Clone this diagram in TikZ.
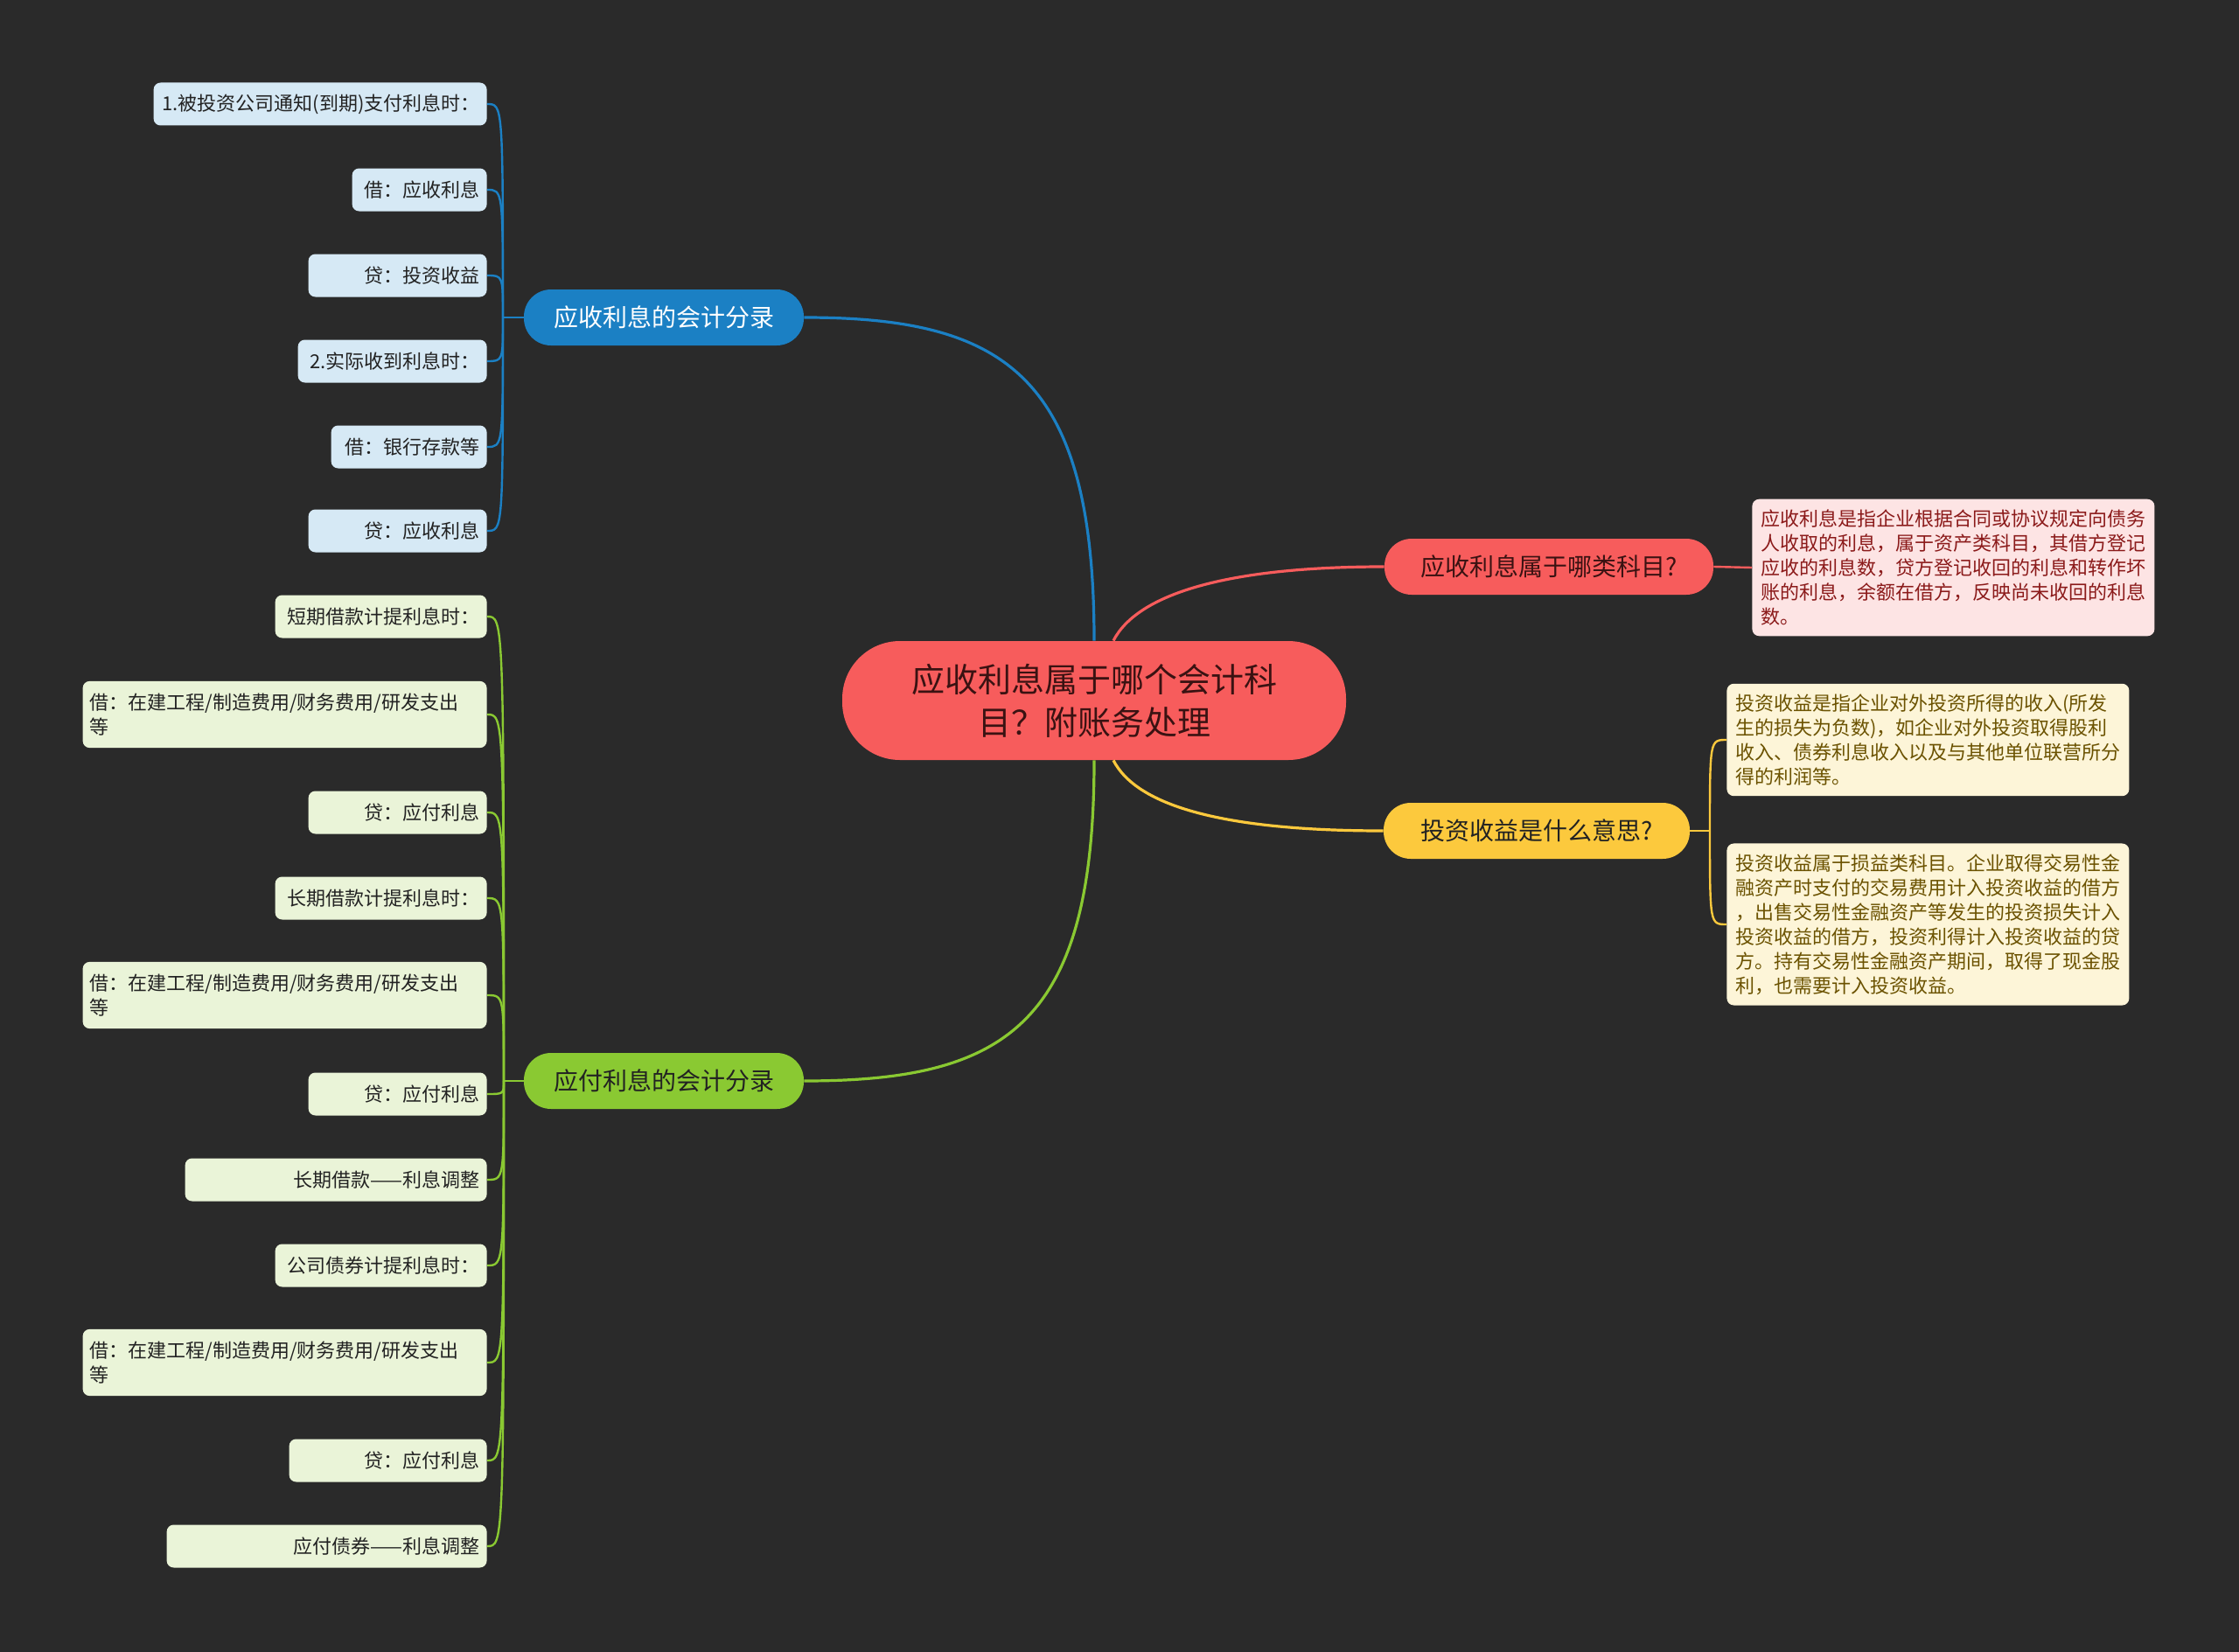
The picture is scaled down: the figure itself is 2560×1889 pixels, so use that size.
\documentclass[tikz,border=0pt]{standalone}
\usepackage{fontspec}
\setmainfont{Noto Sans CJK SC}
\usetikzlibrary{positioning}
\definecolor{bgdark}{RGB}{42,42,42}
\definecolor{rootred}{RGB}{247,92,92}
\definecolor{roottext}{RGB}{58,18,18}
\definecolor{mapblue}{RGB}{27,128,196}
\definecolor{bluefill}{RGB}{214,233,245}
\definecolor{mapgreen}{RGB}{138,201,50}
\definecolor{greenfill}{RGB}{234,244,216}
\definecolor{mapyellow}{RGB}{252,201,61}
\definecolor{yellowfill}{RGB}{253,245,216}
\definecolor{redfill}{RGB}{253,228,228}
\definecolor{redtext}{RGB}{139,26,26}
\definecolor{yellowtext}{RGB}{107,82,0}
\definecolor{leaftext}{RGB}{34,34,34}

\begin{document}
\begin{tikzpicture}[
                x=0.5pt, y=-0.5pt,
                every node/.append style={font=\fontsize{11}{14}\selectfont, inner xsep=4pt, inner ysep=5pt, rounded corners=4pt},
                rootnode/.style={fill=rootred, text=roottext, font=\fontsize{19}{24.5}\selectfont, align=center,
                    minimum width=288pt, minimum height=68pt, rounded corners=33pt},
                branch/.style={font=\fontsize{14}{17}\selectfont, minimum height=32pt, rounded corners=15.5pt},
                bluebranch/.style={branch, fill=mapblue, text=white, minimum width=160pt},
                greenbranch/.style={branch, fill=mapgreen, text=leaftext, minimum width=160pt},
                redbranch/.style={branch, fill=rootred, text=roottext, minimum width=188pt},
                yellowbranch/.style={branch, fill=mapyellow, text=leaftext, minimum width=175pt},
                blueleaf/.style={fill=bluefill, text=leaftext, text width=#1, align=right, minimum height=24.5pt, anchor=east},
                greenleaf/.style={fill=greenfill, text=leaftext, text width=#1, align=right, minimum height=24.5pt, anchor=east},
                greenwide/.style={fill=greenfill, text=leaftext, text width=223pt, align=left, inner ysep=7pt, anchor=east},
                noteleaf/.style={align=left, inner xsep=5pt, inner ysep=6pt, anchor=west},
                rootlink/.style={line width=1.6pt},
                leaflink/.style={line width=1.2pt}
            ]
                \useasboundingbox[fill=bgdark] (0,0) rectangle (2560,1889);

                \node[rootnode] (root) at (1251,801) {应收利息属于哪个会计科\\目？附账务处理};

                \node[bluebranch] (bb) at (759,363) {应收利息的会计分录};
                \node[greenbranch] (gb) at (759,1236) {应付利息的会计分录};
                \node[redbranch] (rb) at (1771,648) {应收利息属于哪类科目?};
                \node[yellowbranch] (yb) at (1757,950) {投资收益是什么意思?};

                \node[blueleaf=182.5pt] (b1) at (557,119) {1.被投资公司通知(到期)支付利息时：};
                \node[blueleaf=69pt] (b2) at (557,217) {借：应收利息};
                \node[blueleaf=94pt] (b3) at (557,315) {贷：投资收益};
                \node[blueleaf=100pt] (b4) at (557,413) {2.实际收到利息时：};
                \node[blueleaf=81pt] (b5) at (557,511) {借：银行存款等};
                \node[blueleaf=94pt] (b6) at (557,607) {贷：应收利息};

                \node[greenleaf=113pt] (g1) at (557,705) {短期借款计提利息时：};
                \node[greenwide] (g2) at (557,817) {借：在建工程/制造费用/财务费用/研发支出\\等};
                \node[greenleaf=94pt] (g3) at (557,929) {贷：应付利息};
                \node[greenleaf=113pt] (g4) at (557,1027) {长期借款计提利息时：};
                \node[greenwide] (g5) at (557,1138) {借：在建工程/制造费用/财务费用/研发支出\\等};
                \node[greenleaf=94pt] (g6) at (557,1251) {贷：应付利息};
                \node[greenleaf=164.5pt] (g7) at (557,1349) {长期借款——利息调整};
                \node[greenleaf=113pt] (g8) at (557,1447) {公司债券计提利息时：};
                \node[greenwide] (g9) at (557,1558) {借：在建工程/制造费用/财务费用/研发支出\\等};
                \node[greenleaf=105pt] (g10) at (557,1670) {贷：应付利息};
                \node[greenleaf=175pt] (g11) at (557,1768) {应付债券——利息调整};

                \node[noteleaf, fill=redfill, text=redtext] (r1) at (2003,649) {应收利息是指企业根据合同或协议规定向债务\\人收取的利息，属于资产类科目，其借方登记\\应收的利息数，贷方登记收回的利息和转作坏\\账的利息，余额在借方，反映尚未收回的利息\\数。};
                \node[noteleaf, fill=yellowfill, text=yellowtext] (y1) at (1974,846) {投资收益是指企业对外投资所得的收入(所发\\生的损失为负数)，如企业对外投资取得股利\\收入、债券利息收入以及与其他单位联营所分\\得的利润等。};
                \node[noteleaf, fill=yellowfill, text=yellowtext] (y2) at (1974,1057) {投资收益属于损益类科目。企业取得交易性金\\融资产时支付的交易费用计入投资收益的借方\\，出售交易性金融资产等发生的投资损失计入\\投资收益的借方，投资利得计入投资收益的贷\\方。持有交易性金融资产期间，取得了现金股\\利，也需要计入投资收益。};

                \draw[rootlink, mapblue] (root.north) .. controls (1251,430) and (1150,363) .. (bb.east);
                \draw[rootlink, mapgreen] (root.south) .. controls (1251,1172) and (1150,1236) .. (gb.east);
                \draw[rootlink, rootred] ([xshift=11pt]root.north) .. controls (1300,680) and (1400,648) .. (rb.west);
                \draw[rootlink, mapyellow] ([xshift=11pt]root.south) .. controls (1300,922) and (1400,950) .. (yb.west);

                \coordinate (bhub) at (575,363);
                \coordinate (ghub) at (576,1236);
                \coordinate (yhub) at (1955,950);
                \draw[leaflink, mapblue] (bb.west) -- (bhub);
                \draw[leaflink, mapgreen] (gb.west) -- (ghub);
                \draw[leaflink, mapyellow] (yb.east) -- (yhub);
                \draw[leaflink, rootred] (rb.east) -- (r1.west);
                \foreach \n in {b1,b2,b3,b4,b5,b6}
                    \draw[leaflink, mapblue] (bhub) .. controls (bhub |- \n.east) and (bhub |- \n.east) .. (\n.east);
                \foreach \n in {g1,g2,g3,g4,g5,g6,g7,g8,g9,g10,g11}
                    \draw[leaflink, mapgreen] (ghub) .. controls (ghub |- \n.east) and (ghub |- \n.east) .. (\n.east);
                \foreach \n in {y1,y2}
                    \draw[leaflink, mapyellow] (yhub) .. controls (yhub |- \n.west) and (yhub |- \n.west) .. (\n.west);
            \end{tikzpicture}
\end{document}
